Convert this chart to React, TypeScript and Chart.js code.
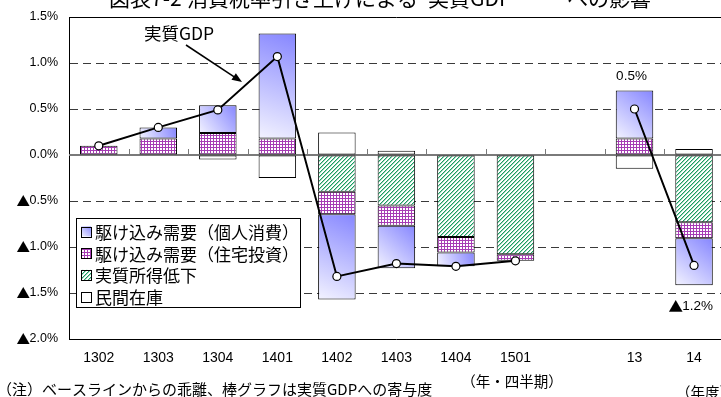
import React, { useEffect, useRef } from 'react';
import { Chart, registerables } from 'chart.js';

Chart.register(...registerables);

// 四半期・年度の区分（空欄は四半期と年度の間のすき間）
const CATEGORIES = ['1302', '1303', '1304', '1401', '1402', '1403', '1404', '1501', '', '13', '14'];

// 寄与度（%ポイント）
const CONSUMPTION = [null, 0.12, 0.3, 1.14, -0.925, -0.46, -0.15, null, null, 0.52, -0.51]; // 駆け込み需要（個人消費）
const HOUSING = [0.1, 0.18, 0.24, 0.18, -0.245, -0.22, -0.17, -0.07, null, 0.18, -0.175]; // 駆け込み需要（住宅投資）
const INCOME = [null, null, null, null, -0.4, -0.55, -0.89, -1.08, null, null, -0.73]; // 実質所得低下
const INVENTORY = [null, null, -0.05, -0.25, 0.245, 0.045, null, null, null, -0.15, 0.065]; // 民間在庫

// 実質GDP（ベースラインからの乖離、%）
const GDP = [0.1, 0.3, 0.49, 1.07, -1.32, -1.18, -1.21, -1.15, null, 0.5, -1.2];

const SERIES_NAMES = ['駆け込み需要（個人消費）', '駆け込み需要（住宅投資）', '実質所得低下', '民間在庫'];
const GDP_NAME = '実質GDP';
const LABELLED_POINTS = [9, 10];

const TITLE_PARTS = ['図表7-2', '消費税率引き上げによる', '実質GDP', 'への影響'];
const NOTE = '（注）ベースラインからの乖離、棒グラフは実質GDPへの寄与度';
const QUARTER_UNIT = '（年・四半期）';
const FISCAL_UNIT = '（年度）';

const Y_MIN = -2;
const Y_MAX = 1.5;
const Y_STEP = 0.5;

const LATIN = '"Liberation Sans", Arial, sans-serif';
const CJK = '"Noto Sans CJK JP", sans-serif';
const MINUS_MARK = '▲';

const BAR_HALF = 19;

function fmtPct(v: number): string {
  const s = Math.abs(v).toFixed(1) + '%';
  return v < -1e-9 ? MINUS_MARK + s : s;
}

type Num = number | null;

// 積み上げの順序（Chart.js と同じ：所得→住宅→個人消費→在庫）
const STACK_ORDER: Num[][] = [INCOME, HOUSING, CONSUMPTION, INVENTORY];

function stackRange(i: number, upTo: number): [number, number] {
  const v = STACK_ORDER[upTo][i] ?? 0;
  let base = 0;
  for (let k = 0; k < upTo; k++) {
    const w = STACK_ORDER[k][i];
    if (w != null && (w > 0) === (v > 0)) base += w;
  }
  return [base, base + v];
}

function stackExtent(i: number): [number, number] {
  let pos = 0;
  let neg = 0;
  for (const arr of STACK_ORDER) {
    const w = arr[i];
    if (w == null) continue;
    if (w > 0) pos += w;
    else neg += w;
  }
  return [neg, pos];
}

function blueGradient(c: CanvasRenderingContext2D, x0: number, yBottom: number, x1: number, yTop: number) {
  const g = c.createLinearGradient(x0, yBottom, x1, yTop);
  g.addColorStop(0, '#f3f3ff');
  g.addColorStop(1, '#8686ff');
  return g;
}

// ▲ は和文フォント、数字は欧文フォントで描く
function drawPct(
  c: CanvasRenderingContext2D,
  v: number,
  x: number,
  y: number,
  align: 'right' | 'center',
  size: number,
) {
  const text = fmtPct(v);
  const neg = text.startsWith(MINUS_MARK);
  const num = neg ? text.slice(MINUS_MARK.length) : text;
  c.font = `${size}px ${LATIN}`;
  const wNum = c.measureText(num).width;
  c.font = `${size + 1}px ${CJK}`;
  const wMark = neg ? c.measureText(MINUS_MARK).width * 0.92 : 0;
  const total = wNum + wMark;
  const left = align === 'right' ? x - total : x - total / 2;
  c.textAlign = 'left';
  c.textBaseline = 'middle';
  if (neg) {
    c.font = `${size + 1}px ${CJK}`;
    c.fillText(MINUS_MARK, left - 0.5, y);
  }
  c.font = `${size}px ${LATIN}`;
  c.fillText(num, left + wMark, y);
}

export default function App() {
  const ref = useRef<HTMLCanvasElement>(null);

  useEffect(() => {
    const canvas = ref.current!;
    const c2d = canvas.getContext('2d')!;

    const tile = (size: number, draw: (c: CanvasRenderingContext2D) => void) => {
      const t = document.createElement('canvas');
      t.width = size;
      t.height = size;
      const tc = t.getContext('2d')!;
      tc.fillStyle = '#fff';
      tc.fillRect(0, 0, size, size);
      draw(tc);
      return c2d.createPattern(t, 'repeat')!;
    };

    // 住宅投資：紫の細かい格子
    const gridPattern = tile(3, (tc) => {
      tc.fillStyle = '#a63cb4';
      tc.fillRect(0, 0, 3, 1);
      tc.fillRect(0, 0, 1, 3);
    });

    // 実質所得低下：緑の右上がり斜線
    const hatchPattern = tile(4, (tc) => {
      for (let k = 0; k < 4; k++) {
        tc.fillStyle = '#9ad8ba';
        tc.fillRect((k + 1) % 4, 3 - k, 1, 1);
        tc.fillStyle = '#1c9a62';
        tc.fillRect(k, 3 - k, 1, 1);
      }
    });

    const consumptionFill = (ctx: any) => {
      const chart = ctx.chart;
      const { x, y } = chart.scales || {};
      const i = ctx.dataIndex;
      if (!x || !y || i == null || CONSUMPTION[i] == null) return '#b0b0ff';
      const [a, b] = stackRange(i, 2);
      const ya = y.getPixelForValue(a);
      const yb = y.getPixelForValue(b);
      const xc = x.getPixelForValue(i);
      return blueGradient(chart.ctx, xc - BAR_HALF, Math.max(ya, yb), xc + BAR_HALF, Math.min(ya, yb));
    };

    const barCommon = {
      type: 'bar' as const,
      order: 1,
      stack: 'contrib',
      barPercentage: 0.63,
      categoryPercentage: 1,
      borderWidth: 1,
      borderColor: '#000',
      borderSkipped: false as const,
    };

    const decorations = {
      id: 'decorations',
      beforeDatasetsDraw(chart: any) {
        const { ctx, chartArea: area, scales } = chart;
        const y0 = scales.y.getPixelForValue(0);
        ctx.save();
        ctx.strokeStyle = '#7a7a7a';
        ctx.lineWidth = 2;
        ctx.beginPath();
        ctx.moveTo(area.left, y0);
        ctx.lineTo(area.right, y0);
        ctx.stroke();
        ctx.lineWidth = 1;
        const n = CATEGORIES.length;
        const step = (area.right - area.left) / n;
        for (let k = 1; k <= n; k++) {
          const xx = Math.round(area.left + k * step) + 0.5;
          ctx.beginPath();
          ctx.moveTo(xx, y0 - 6);
          ctx.lineTo(xx, y0);
          ctx.stroke();
        }
        ctx.restore();
      },
      afterDraw(chart: any) {
        const { ctx, chartArea: area, scales } = chart;
        const x = scales.x;
        const y = scales.y;
        ctx.save();

        // 枠の上辺
        ctx.strokeStyle = '#000';
        ctx.lineWidth = 1;
        ctx.beginPath();
        ctx.moveTo(area.left, Math.round(area.top) + 0.5);
        ctx.lineTo(area.right, Math.round(area.top) + 0.5);
        ctx.stroke();

        // 縦軸の目盛ラベル
        ctx.fillStyle = '#000';
        for (const t of y.ticks) {
          drawPct(ctx, t.value, 58, y.getPixelForValue(t.value), 'right', 12.5);
        }

        // 凡例
        const lx = 76;
        const ly = 218;
        const lw = 224;
        const lh = 89;
        ctx.fillStyle = '#fff';
        ctx.fillRect(lx, ly, lw, lh);
        ctx.strokeStyle = '#000';
        ctx.strokeRect(lx + 0.5, ly + 0.5, lw, lh);
        const fills = [blueGradient(ctx, 81, 236, 91, 226), gridPattern, hatchPattern, '#fff'];
        ctx.font = `17px ${CJK}`;
        ctx.textBaseline = 'middle';
        ctx.textAlign = 'left';
        SERIES_NAMES.forEach((name, k) => {
          const cy = 231.5 + k * 21.7;
          ctx.fillStyle = fills[k];
          ctx.fillRect(81, cy - 5, 10, 10);
          ctx.strokeStyle = '#000';
          ctx.strokeRect(81.5, Math.round(cy - 5) + 0.5, 10, 10);
          ctx.fillStyle = '#000';
          ctx.fillText(name, 95, cy + 1);
        });

        // 実質GDPの説明と矢印
        ctx.font = `17.5px ${CJK}`;
        ctx.fillStyle = '#000';
        ctx.fillText(GDP_NAME, 144, 33);
        const ax0 = 186;
        const ay0 = 45;
        const ax1 = 242;
        const ay1 = 82;
        const ang = Math.atan2(ay1 - ay0, ax1 - ax0);
        ctx.lineWidth = 1.5;
        ctx.beginPath();
        ctx.moveTo(ax0, ay0);
        ctx.lineTo(ax1 - 8 * Math.cos(ang), ay1 - 8 * Math.sin(ang));
        ctx.stroke();
        ctx.beginPath();
        ctx.moveTo(ax1, ay1);
        ctx.lineTo(ax1 - 10 * Math.cos(ang) + 4 * Math.sin(ang), ay1 - 10 * Math.sin(ang) - 4 * Math.cos(ang));
        ctx.lineTo(ax1 - 10 * Math.cos(ang) - 4 * Math.sin(ang), ay1 - 10 * Math.sin(ang) + 4 * Math.cos(ang));
        ctx.closePath();
        ctx.fill();

        // 年度の実質GDP値
        LABELLED_POINTS.forEach((i) => {
          const v = GDP[i];
          if (v == null) return;
          const [lo, hi] = stackExtent(i);
          const xc = x.getPixelForValue(i) - 3;
          const yy = v >= 0 ? y.getPixelForValue(hi) - 14 : y.getPixelForValue(lo) + 21;
          drawPct(ctx, v, xc, yy, 'center', 13.5);
        });

        // タイトル（上端で切れている）
        ctx.fillStyle = '#000';
        ctx.font = `21px ${CJK}`;
        ctx.textAlign = 'left';
        ctx.textBaseline = 'middle';
        ctx.fillText(TITLE_PARTS[0], 109, -2);
        ctx.fillText(TITLE_PARTS[1], 187, -2);
        ctx.fillText(TITLE_PARTS[2], 428, -2);
        ctx.textAlign = 'right';
        ctx.fillText(TITLE_PARTS[3], 651, -2);

        // 注記・単位
        ctx.textAlign = 'left';
        ctx.font = `15px ${CJK}`;
        ctx.fillText(NOTE, -3, 389);
        ctx.font = `14.5px ${CJK}`;
        ctx.textAlign = 'center';
        ctx.fillText(QUARTER_UNIT, 512, 381);
        ctx.textAlign = 'left';
        ctx.fillText(FISCAL_UNIT, 676, 392);

        ctx.restore();
      },
    };

    Chart.defaults.color = '#000';

    const chart = new Chart(canvas, {
      type: 'bar',
      data: {
        labels: CATEGORIES,
        datasets: [
          {
            type: 'line',
            label: GDP_NAME,
            data: GDP,
            order: 0,
            stack: 'gdp',
            borderColor: '#000',
            borderWidth: 2,
            pointRadius: 4,
            pointHoverRadius: 4,
            pointBackgroundColor: '#fff',
            pointBorderColor: '#000',
            pointBorderWidth: 1.2,
            spanGaps: false,
            tension: 0,
          } as any,
          { ...barCommon, label: SERIES_NAMES[2], data: INCOME, backgroundColor: hatchPattern },
          { ...barCommon, label: SERIES_NAMES[1], data: HOUSING, backgroundColor: gridPattern },
          { ...barCommon, label: SERIES_NAMES[0], data: CONSUMPTION, backgroundColor: consumptionFill },
          { ...barCommon, label: SERIES_NAMES[3], data: INVENTORY, backgroundColor: '#fff' },
        ],
      },
      options: {
        responsive: false,
        animation: false,
        devicePixelRatio: 1,
        layout: { padding: { top: 17, left: 0, right: 0, bottom: 0 } },
        plugins: {
          legend: { display: false },
          tooltip: { enabled: false },
          title: { display: false },
        },
        scales: {
          x: {
            stacked: true,
            grid: { display: false, drawTicks: false },
            border: { display: true, color: '#000', width: 1 },
            ticks: {
              font: { family: LATIN, size: 14 },
              color: '#000',
              padding: 11,
              autoSkip: false,
              maxRotation: 0,
            },
            afterFit: (s: any) => {
              s.height = 58;
            },
          },
          y: {
            stacked: true,
            min: Y_MIN,
            max: Y_MAX,
            grid: {
              drawTicks: false,
              lineWidth: 1,
              color: (c: any) => {
                const v = c.tick ? c.tick.value : null;
                if (v == null) return 'rgba(0,0,0,0)';
                if (Math.abs(v) < 1e-9 || v >= Y_MAX - 1e-9 || v <= Y_MIN + 1e-9) return 'rgba(0,0,0,0)';
                return '#3a3a3a';
              },
            },
            border: { display: true, color: '#000', width: 1, dash: [8, 5] },
            ticks: {
              stepSize: Y_STEP,
              display: false,
            },
            afterFit: (s: any) => {
              s.width = 69;
            },
          },
        },
      },
      plugins: [decorations],
    } as any);

    return () => chart.destroy();
  }, []);

  return (
    <div
      style={{
        position: 'fixed',
        left: 0,
        top: 0,
        width: 721,
        height: 397,
        overflow: 'hidden',
        background: '#fff',
      }}
    >
      <canvas ref={ref} width={729} height={397} style={{ display: 'block', width: 729, height: 397 }} />
    </div>
  );
}
